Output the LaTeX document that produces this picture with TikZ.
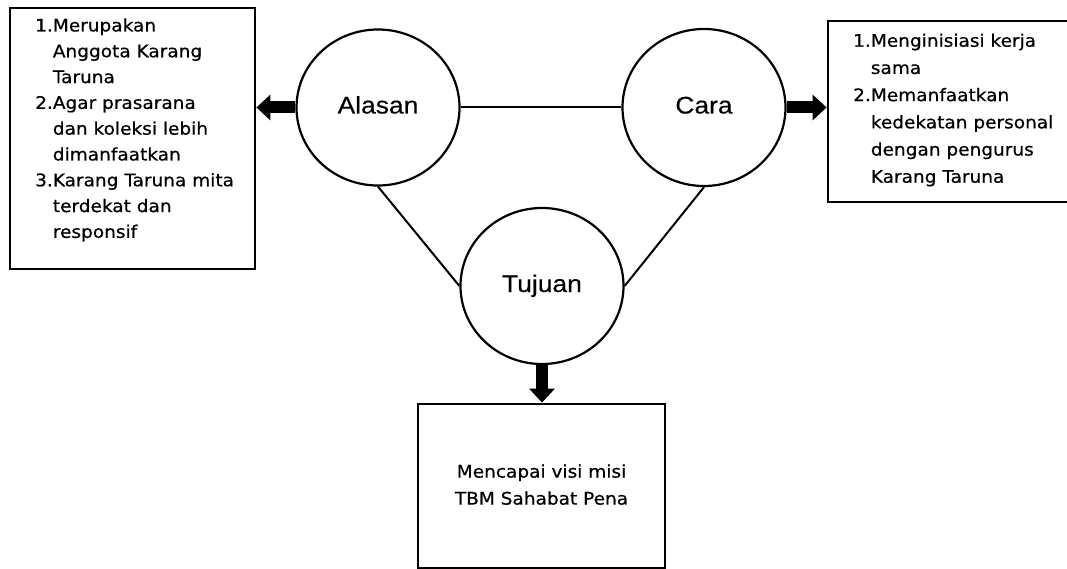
\documentclass[tikz,border=0pt]{standalone}
\usepackage{fontspec}
\setmainfont{Liberation Sans}
\newfontfamily\boxfont[FakeStretch=1.07,FakeBold=0.6]{DejaVu Sans}
\newfontfamily\circfont[FakeStretch=1.1,FakeBold=0.3]{Liberation Sans}
\usetikzlibrary{shapes.geometric,arrows.meta}
\begin{document}
\begin{tikzpicture}[x=1pt,y=-1pt,
  circ/.style={draw, ellipse, line width=2.2pt, minimum width=163pt, minimum height=156pt,
    inner sep=0pt, text height=12pt, text depth=0pt, font=\circfont\fontsize{24}{28}\selectfont},
  boxnode/.style={draw, rectangle, line width=2.8pt, inner sep=0pt},
  link/.style={line width=2pt},
  fat/.style={line width=12pt, -{Triangle[width=25pt,length=14pt]}},
  txt/.style={inner sep=0pt, font=\boxfont\fontsize{17.3}{25.8}\selectfont},
  txtr/.style={inner sep=0pt, font=\boxfont\fontsize{17.3}{27.2}\selectfont},
  txtb/.style={inner sep=0pt, font=\boxfont\fontsize{17.3}{27}\selectfont}]
\useasboundingbox (0,0) rectangle (1067,569);
\fill[white] (0,0) rectangle (1067,569);

\node[boxnode, minimum width=245pt, minimum height=261pt] (lbox) at (132.5,138.5) {};
\node[boxnode, minimum width=244pt, minimum height=181pt] (rbox) at (950,111.5) {};
\node[boxnode, minimum width=247pt, minimum height=164pt] (bbox) at (541.5,486) {};

\node[circ] (alasan) at (378,107.5) {Alasan};
\node[circ, minimum height=157pt] (cara) at (704,107.5) {Cara};
\node[circ] (tujuan) at (542,286) {Tujuan};

\draw[link] (alasan.east) -- (cara.west);
\draw[link] (alasan.south) -- (tujuan.west);
\draw[link] (cara.south) -- (tujuan.east);

\draw[fat] (alasan.west) -- (alasan.west -| lbox.east);
\draw[fat] (cara.east) -- (cara.east -| rbox.west);
\draw[fat] (tujuan.south) -- (tujuan.south |- bbox.north);

\node[txt, anchor=north west] (ltext) at (35,13.2) {\begin{tabular}{@{}l@{}l@{}}
1.&Merupakan\\
  &Anggota Karang\\
  &Taruna\\
2.&Agar prasarana\\
  &dan koleksi lebih\\
  &dimanfaatkan\\
3.&Karang Taruna mita\\
  &terdekat dan\\
  &responsif
\end{tabular}};

\node[txtr, anchor=north west] (rtext) at (853,27.5) {\begin{tabular}{@{}l@{}l@{}}
1.&Menginisiasi kerja\\
  &sama\\
2.&Memanfaatkan\\
  &kedekatan personal\\
  &dengan pengurus\\
  &Karang Taruna
\end{tabular}};

\node[txtb, anchor=north] (btext) at (541.5,458.5) {\begin{tabular}{@{}c@{}}
Mencapai visi misi\\
TBM Sahabat Pena
\end{tabular}};
\end{tikzpicture}
\end{document}
